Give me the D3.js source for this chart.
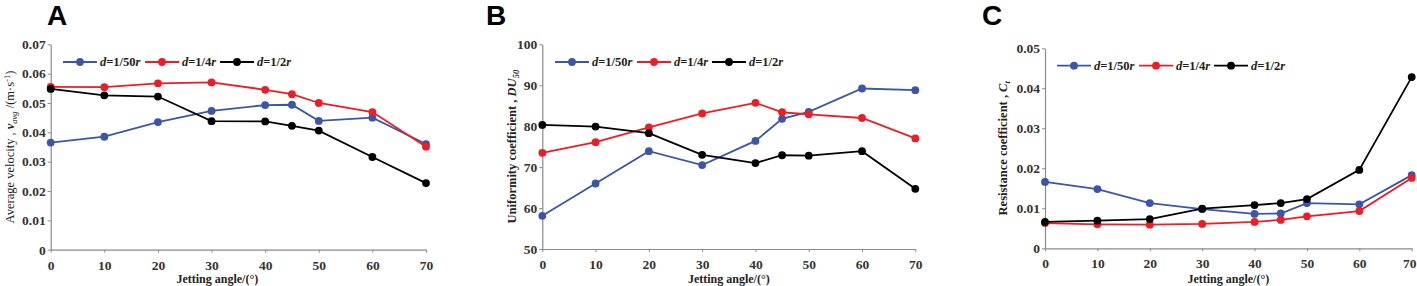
<!DOCTYPE html>
<html>
<head>
<meta charset="utf-8">
<script src="https://cdn.jsdelivr.net/npm/d3@7"></script>
<style>
  body { margin: 0; background: #fff; }
  svg { display: block; }
</style>
</head>
<body>
<script>
// jetting angles shared by all three panels
const angles = [0, 10, 20, 30, 40, 45, 50, 60, 70];
const xTicks = [0, 10, 20, 30, 40, 50, 60, 70];
const seriesNames = ["1/50", "1/4", "1/2"];

// panel A: average velocity
const velocity5 = [0.0365, 0.0385, 0.0435, 0.0473, 0.0493, 0.0494, 0.0439, 0.0450, 0.0360];
const velocity4 = [0.0555, 0.0554, 0.0567, 0.0570, 0.0545, 0.0530, 0.0500, 0.0469, 0.0351];
const velocity2 = [0.0548, 0.0526, 0.0522, 0.0438, 0.0437, 0.0422, 0.0406, 0.0316, 0.0227];
const velocityTicks = [0, 0.01, 0.02, 0.03, 0.04, 0.05, 0.06, 0.07];

// panel B: uniformity coefficient
const uniform5 = [58.1, 66.0, 73.9, 70.5, 76.4, 81.8, 83.5, 89.2, 88.8];
const uniform4 = [73.5, 76.1, 79.7, 83.1, 85.7, 83.4, 82.9, 82.0, 77.0];
const uniform2 = [80.3, 79.9, 78.3, 73.0, 71.0, 72.9, 72.8, 73.9, 64.7];
const uniformTicks = [50, 60, 70, 80, 90, 100];

// panel C: resistance coefficient
const resist5 = [0.0166, 0.0148, 0.0113, 0.0098, 0.0086, 0.0087, 0.0113, 0.0110, 0.0183];
const resist4 = [0.0063, 0.0060, 0.0059, 0.0061, 0.0066, 0.0071, 0.0080, 0.0093, 0.0176];
const resist2 = [0.0066, 0.0069, 0.0073, 0.0099, 0.0108, 0.0113, 0.0123, 0.0196, 0.0428];
const resistTicks = [0, 0.01, 0.02, 0.03, 0.04, 0.05];

const colors = ["#3b55a8", "#ee1c25", "#000000"];
const serif = "'Liberation Serif', 'Times New Roman', serif";
const W = 1417;

const svg = d3.select("body").append("svg")
  .attr("width", W)
  .attr("height", 286);

const panels = [
  { letter: "A", lx: 47, left: 50.7, right: 426, top: 44.3, bottom: 249.7,
    domain: [0, 0.07], ticks: velocityTicks, fmt: d => d === 0 ? "0" : d3.format(".2f")(d),
    series: [velocity5, velocity4, velocity2], legendY: 62, legendX: 63,
    titleX: 14, titleShift: -21, titleWeight: "normal",
    label: [["Average velocity , ", {}], ["v", { italic: 1, bold: 1 }], ["avg", { italic: 1, sub: 1 }],
            [" /(m·s", { up: 1 }], ["-1", { sup: 1 }], [")", { down: 1 }]] },
  { letter: "B", lx: 486, left: 542.3, right: 915.3, top: 44.3, bottom: 249,
    domain: [50, 100], ticks: uniformTicks, fmt: d => d,
    series: [uniform5, uniform4, uniform2], legendY: 62, legendX: 555,
    titleX: 516, titleShift: 0, titleWeight: "bold",
    label: [["Uniformity coefficient , ", {}], ["DU", { italic: 1 }], ["50", { italic: 1, sub: 1 }]] },
  { letter: "C", lx: 982, left: 1045, right: 1411.7, top: 48.3, bottom: 248.3,
    domain: [0, 0.05], ticks: resistTicks, fmt: d => d === 0 ? "0" : d3.format(".2f")(d),
    series: [resist5, resist4, resist2], legendY: 65.7, legendX: 1057,
    titleX: 1007, titleShift: 0, titleWeight: "bold",
    label: [["Resistance coefficient , ", {}], ["C", { italic: 1 }], ["t", { italic: 1, sub: 1 }]] }
];

panels.forEach(p => {
  const g = svg.append("g");
  const x = d3.scaleLinear().domain([0, 70]).range([p.left, p.right]);
  const y = d3.scaleLinear().domain(p.domain).range([p.bottom, p.top]);

  // panel letter
  g.append("text")
    .attr("x", p.lx).attr("y", 25)
    .attr("font-family", "'Liberation Sans', Arial, sans-serif")
    .attr("font-weight", "bold").attr("font-size", 28)
    .text(p.letter);

  // axes
  const xAxis = g.append("g")
    .attr("transform", `translate(0,${p.bottom})`)
    .call(d3.axisBottom(x).tickValues(xTicks).tickSize(3).tickSizeOuter(0));
  const yAxis = g.append("g")
    .attr("transform", `translate(${p.left},0)`)
    .call(d3.axisLeft(y).tickValues(p.ticks).tickFormat(p.fmt).tickSize(3).tickSizeOuter(0));
  [xAxis, yAxis].forEach(a => {
    a.select(".domain").attr("stroke", "#8a8a8a").attr("stroke-width", 1.2);
    a.selectAll(".tick line").attr("stroke", "#8a8a8a");
    a.selectAll(".tick text")
      .attr("font-family", serif).attr("font-weight", "bold")
      .attr("font-size", 13.5).attr("fill", "#333");
  });
  xAxis.selectAll(".tick text").attr("dy", "1.05em");
  // keep the last label inside the page edge
  xAxis.selectAll(".tick text").filter(d => x(d) + 7 > W).attr("x", d => W - 1 - x(d)).attr("text-anchor", "end");
  yAxis.selectAll(".tick text").attr("x", -5);

  // x axis title
  g.append("text")
    .attr("x", (p.left + p.right) / 2 + p.titleShift).attr("y", 283)
    .attr("text-anchor", "middle")
    .attr("font-family", serif).attr("font-weight", "bold")
    .attr("font-size", 12).attr("fill", "#222")
    .text("Jetting angle/(°)");

  // y axis title
  const yt = g.append("text")
    .attr("transform", `translate(${p.titleX},${(p.top + p.bottom) / 2}) rotate(-90)`)
    .attr("text-anchor", "middle")
    .attr("font-family", serif).attr("font-weight", p.titleWeight)
    .attr("font-size", 12.5).attr("fill", "#222");
  p.label.forEach(([t, o]) => {
    const ts = yt.append("tspan").text(t);
    if (o.italic) ts.attr("font-style", "italic");
    if (o.bold) ts.attr("font-weight", "bold");
    if (o.sub) ts.attr("font-size", 8.5).attr("dy", 3);
    if (o.up) ts.attr("dy", -3);
    if (o.sup) ts.attr("font-size", 8.5).attr("dy", -4);
    if (o.down) ts.attr("dy", 4);
  });

  // lines and markers
  const line = d3.line().x((d, i) => x(angles[i])).y(d => y(d));
  p.series.forEach((vals, si) => {
    g.append("path")
      .attr("d", line(vals))
      .attr("fill", "none")
      .attr("stroke", colors[si]).attr("stroke-width", 1.8);
    g.selectAll(null).data(vals).join("circle")
      .attr("cx", (d, i) => x(angles[i])).attr("cy", d => y(d))
      .attr("r", 3.9).attr("fill", colors[si]);
  });

  // legend
  const lg = g.append("g").attr("transform", `translate(${p.legendX},${p.legendY})`);
  seriesNames.forEach((name, si) => {
    const ox = si * 82 - (si === 2 ? 7 : 0);
    lg.append("line")
      .attr("x1", ox).attr("x2", ox + 34).attr("y1", 0).attr("y2", 0)
      .attr("stroke", colors[si]).attr("stroke-width", 1.8);
    lg.append("circle").attr("cx", ox + 17).attr("cy", 0).attr("r", 3.9).attr("fill", colors[si]);
    const t = lg.append("text")
      .attr("x", ox + 37).attr("y", 4)
      .attr("font-family", serif).attr("font-weight", "bold")
      .attr("font-size", 12.5).attr("fill", "#222");
    t.append("tspan").attr("font-style", "italic").text("d");
    t.append("tspan").text("=" + name);
    t.append("tspan").attr("font-style", "italic").text("r");
  });
});
</script>
</body>
</html>
